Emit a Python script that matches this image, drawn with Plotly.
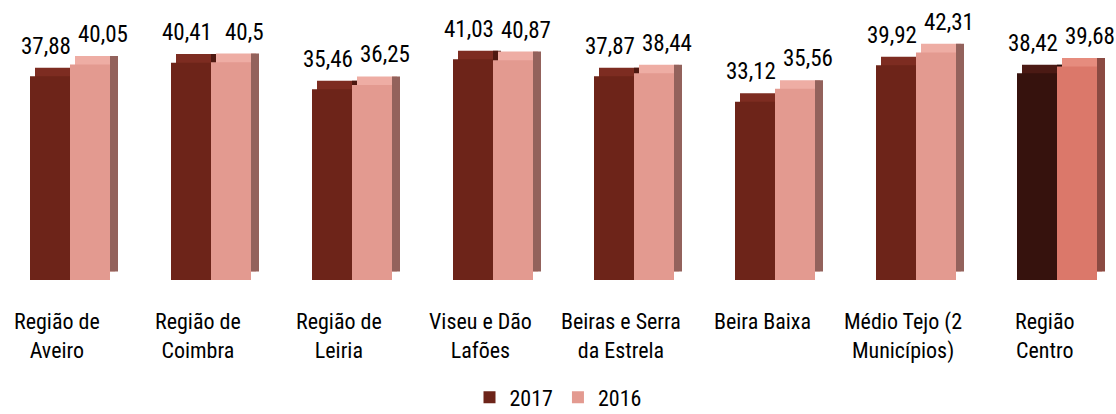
import plotly.graph_objects as go

# ---------------- data ----------------
categories = ["Região de Aveiro", "Região de Coimbra", "Região de Leiria",
              "Viseu e Dão Lafões", "Beiras e Serra da Estrela", "Beira Baixa",
              "Médio Tejo (2 Municípios)", "Região Centro"]
tick_labels = ["Região de<br>Aveiro", "Região de<br>Coimbra", "Região de<br>Leiria",
               "Viseu e Dão<br>Lafões", "Beiras e Serra<br>da Estrela", "Beira Baixa",
               "Médio Tejo (2<br>Municípios)", "Região<br>Centro"]
values_2017 = [37.88, 40.41, 35.46, 41.03, 37.87, 33.12, 39.92, 38.42]
values_2016 = [40.05, 40.5, 36.25, 40.87, 38.44, 35.56, 42.31, 39.68]
series_names = ["2017", "2016"]

# ---------------- styles ----------------
FONT = "Roboto Condensed, Roboto, Liberation Sans, sans-serif"
CAT_PX = 141.0
BAR = 40 / CAT_PX
SHIFT = 5 / CAT_PX
SIDE = 8 / CAT_PX
DEPTH = 1.6

n = len(categories)
front_2017 = ["#6d2419"] * (n - 1) + ["#36120d"]
cap_2017 = ["#7d2c21"] * (n - 1) + ["#4b1a14"]
side_2017 = ["#4e1810"] * (n - 1) + ["#240a07"]
front_2016 = ["#e39a90"] * (n - 1) + ["#db786a"]
cap_2016 = ["#eeada4"] * (n - 1) + ["#e68c7e"]
side_2016 = ["#93625c"] * (n - 1) + ["#8b4a42"]

fig = go.Figure()

def add_series(vals, name, off, front, cap, side):
    fig.add_trace(go.Bar(x=categories, y=vals, base=0, offset=off + SHIFT, width=BAR,
                         marker=dict(color=cap, line=dict(width=0)),
                         showlegend=False, hoverinfo="skip"))
    fig.add_trace(go.Bar(x=categories, y=vals, base=0, offset=off + BAR, width=SIDE,
                         marker=dict(color=side, line=dict(width=0)),
                         showlegend=False, hoverinfo="skip"))
    fig.add_trace(go.Bar(x=categories, y=vals, base=-DEPTH, offset=off, width=BAR,
                         marker=dict(color=front, line=dict(width=0)),
                         name=name, showlegend=True))

add_series(values_2017, series_names[0], -BAR, front_2017, cap_2017, side_2017)
add_series(values_2016, series_names[1], 0.0, front_2016, cap_2016, side_2016)

for cat, v in zip(categories, values_2017):
    fig.add_annotation(x=cat, y=v, xref="x", yref="y", text=str(v).replace(".", ","),
                       showarrow=False, xanchor="center", yanchor="bottom",
                       xshift=-24, yshift=6, font=dict(family=FONT, size=23, color="#000"))
for cat, v in zip(categories, values_2016):
    fig.add_annotation(x=cat, y=v, xref="x", yref="y", text=str(v).replace(".", ","),
                       showarrow=False, xanchor="center", yanchor="bottom",
                       xshift=33, yshift=6, font=dict(family=FONT, size=23, color="#000"))

for cat, lab in zip(categories, tick_labels):
    fig.add_annotation(x=cat, y=0, xref="x", yref="paper", text=lab, showarrow=False,
                       xanchor="center", yanchor="top", xshift=-13, yshift=-27,
                       font=dict(family=FONT, size=22, color="#000"))

x0 = -70 / CAT_PX
fig.update_layout(
    width=1116, height=414,
    margin=dict(l=0, r=0, t=10, b=134, pad=0, autoexpand=False),
    barmode="overlay",
    plot_bgcolor="white", paper_bgcolor="white",
    font=dict(family=FONT, size=22, color="#000"),
    xaxis=dict(range=[x0, x0 + 1116 / CAT_PX], showticklabels=False, showgrid=False,
               zeroline=False, showline=False, ticks="", fixedrange=True),
    yaxis=dict(range=[-DEPTH, 48.6], showticklabels=False, showgrid=False,
               zeroline=False, showline=False, ticks="", fixedrange=True),
    legend=dict(orientation="h", x=0.5, xanchor="center", yref="paper",
                y=-0.435, yanchor="middle", font=dict(family=FONT, size=22, color="#000"),
                itemwidth=30, tracegroupgap=0, bgcolor="rgba(0,0,0,0)"),
    showlegend=True,
)

fig.write_html("out.html", config={"displayModeBar": False},
               post_script="document.body.style.margin='0px';")
